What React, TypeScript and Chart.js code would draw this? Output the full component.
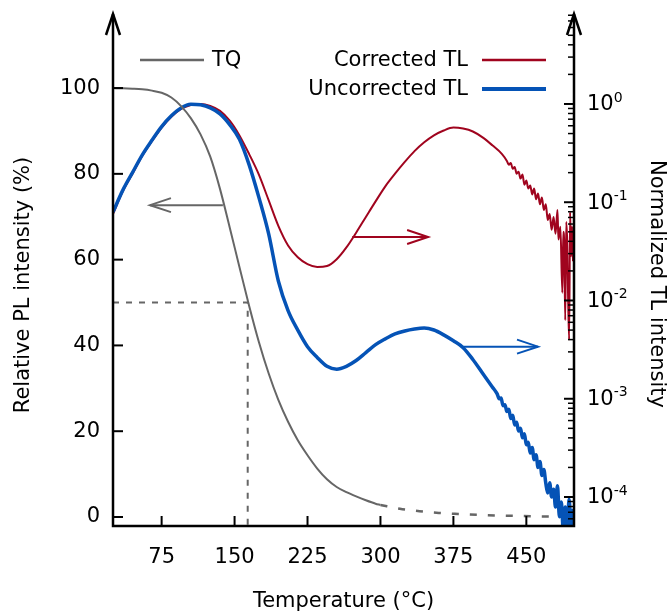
import React, { useEffect, useRef } from 'react';
import { Chart, registerables } from 'chart.js';

Chart.register(...registerables);

// ---------- data ----------
const tqTemps = [25, 35, 45, 55, 65, 75, 85, 95, 105, 115, 125, 135, 145, 155, 165, 175, 185, 195, 205, 215, 225, 235, 245, 255, 265, 275, 285, 295, 300];
const tqValues = [100, 99.95, 99.85, 99.7, 99.4, 98.9, 97.8, 95.8, 93.0, 89.2, 84.0, 76.5, 67.5, 58.3, 49.2, 40.8, 33.5, 27.3, 22.2, 17.9, 14.4, 11.3, 8.8, 7.0, 5.8, 4.8, 3.9, 3.1, 2.8];

const tqExtTemps = [300, 320, 340, 360, 380, 400, 420, 440, 460, 480, 499];
const tqExtValues = [2.8, 1.9, 1.35, 0.95, 0.7, 0.5, 0.35, 0.25, 0.15, 0.1, 0.05];

const halfTemps = [25, 163.5, 163.5];
const halfValues = [50, 50, -2.1];

const uncorrectedTemps = [25, 35, 45, 55, 65, 75, 85, 95, 105, 115, 125, 135, 145, 155, 165, 175, 185, 195, 205, 215, 225, 235, 245, 255, 265, 275, 285, 295, 305, 315, 325, 335, 345, 355, 365, 375, 385, 395, 405, 415, 420, 422, 424, 426, 428, 430, 432, 434, 436, 438, 440, 442, 444, 446, 448, 450, 452, 454, 456, 458, 460, 462, 464, 466, 468, 470, 472, 474, 476, 478, 480, 482, 484, 486, 488, 490, 492, 494, 496, 498];
const uncorrectedTL = [0.0794, 0.132, 0.2, 0.302, 0.427, 0.589, 0.759, 0.912, 0.995, 0.98, 0.912, 0.794, 0.617, 0.437, 0.24, 0.112, 0.0479, 0.0158, 0.0079, 0.005, 0.00339, 0.00263, 0.00214, 0.002, 0.00214, 0.00245, 0.00295, 0.00355, 0.00407, 0.00457, 0.0049, 0.00513, 0.00525, 0.00501, 0.00447, 0.00389, 0.00331, 0.00251, 0.00182, 0.00132, 0.00112, 0.001, 0.00102, 0.00085, 0.00087, 0.00074, 0.00078, 0.00063, 0.00068, 0.00054, 0.000575, 0.00047, 0.0005, 0.0004, 0.00044, 0.00034, 0.00036, 0.00028, 0.00032, 0.00024, 0.00027, 0.0002, 0.00023, 0.000166, 0.00019, 0.000138, 0.00011, 0.00014, 0.0001, 0.00012, 0.000079, 0.00013, 0.000063, 0.000089, 0.000045, 0.000079, 0.00005, 0.000095, 0.000045, 0.000076];

const correctedTemps = [25, 35, 45, 55, 65, 75, 85, 95, 105, 115, 125, 135, 145, 155, 165, 175, 185, 195, 205, 215, 225, 235, 245, 255, 265, 275, 285, 295, 305, 315, 325, 335, 345, 355, 365, 375, 385, 395, 405, 415, 425, 430, 432, 434, 436, 438, 440, 442, 444, 446, 448, 450, 452, 454, 456, 458, 460, 462, 464, 466, 468, 470, 472, 474, 476, 478, 480, 482, 483, 485, 487, 488, 489, 490, 491, 492, 493, 494, 495, 496, 497, 498];
const correctedTL = [0.0759, 0.129, 0.195, 0.295, 0.417, 0.575, 0.741, 0.891, 0.977, 1.0, 0.955, 0.851, 0.676, 0.479, 0.309, 0.191, 0.105, 0.0575, 0.0363, 0.0275, 0.0234, 0.0219, 0.0224, 0.0263, 0.0347, 0.049, 0.0708, 0.102, 0.145, 0.195, 0.257, 0.331, 0.407, 0.479, 0.537, 0.575, 0.562, 0.525, 0.457, 0.38, 0.309, 0.263, 0.24, 0.251, 0.219, 0.229, 0.195, 0.204, 0.174, 0.191, 0.151, 0.166, 0.138, 0.148, 0.12, 0.138, 0.107, 0.123, 0.0955, 0.112, 0.0832, 0.0955, 0.0661, 0.0759, 0.0525, 0.0708, 0.0479, 0.0832, 0.0417, 0.0562, 0.012, 0.0501, 0.0355, 0.0063, 0.0631, 0.0398, 0.01, 0.004, 0.0794, 0.0282, 0.0562, 0.0251];

const xTickValues = [75, 150, 225, 300, 375, 450];
const leftTickValues = [0, 20, 40, 60, 80, 100];
const rightDecadeExponents = [0, -1, -2, -3, -4];

// annotation arrows (data coordinates)
const tqArrow = { from: 138, to: 63, value: 72.7 };
const correctedArrow = { from: 271, to: 349, value: 0.0443 };
const uncorrectedArrow = { from: 385, to: 462, value: 0.00339 };

const legendLabels = ['TQ', 'Corrected TL', 'Uncorrected TL'];
const axisTitles = { x: 'Temperature (°C)', left: 'Relative PL intensity (%)', right: 'Normalized TL intensity' };

// ---------- styles ----------
const FONT = '"DejaVu Sans", "Verdana", sans-serif';
const GRAY = '#666666';
const RED = '#a0041e';
const BLUE = '#0553b6';
const INK = '#000000';

const zip = (xs: number[], ys: number[]) => xs.map((x, i) => ({ x, y: ys[i] }));

function line(ctx: CanvasRenderingContext2D, x0: number, y0: number, x1: number, y1: number) {
  ctx.beginPath();
  ctx.moveTo(x0, y0);
  ctx.lineTo(x1, y1);
  ctx.stroke();
}

function arrow(ctx: CanvasRenderingContext2D, x0: number, x1: number, y: number, color: string) {
  ctx.strokeStyle = color;
  ctx.lineWidth = 2;
  line(ctx, x0, y, x1, y);
  const dir = x1 > x0 ? 1 : -1;
  ctx.beginPath();
  ctx.moveTo(x1 - dir * 21, y - 7);
  ctx.lineTo(x1, y);
  ctx.lineTo(x1 - dir * 21, y + 7);
  ctx.stroke();
}

const decorPlugin = {
  id: 'decor',
  afterDraw(chart: any) {
    const { ctx, chartArea: ca, scales } = chart;
    const xs = scales.x;
    const yl = scales.y;
    const yr = scales.y2;
    ctx.save();

    // annotation arrows
    arrow(ctx, xs.getPixelForValue(tqArrow.from), xs.getPixelForValue(tqArrow.to), yl.getPixelForValue(tqArrow.value), GRAY);
    arrow(ctx, xs.getPixelForValue(correctedArrow.from), xs.getPixelForValue(correctedArrow.to), yr.getPixelForValue(correctedArrow.value), RED);
    arrow(ctx, xs.getPixelForValue(uncorrectedArrow.from), xs.getPixelForValue(uncorrectedArrow.to), yr.getPixelForValue(uncorrectedArrow.value), BLUE);

    // axes
    ctx.strokeStyle = '#000';
    ctx.lineWidth = 2.5;
    ctx.lineJoin = 'miter';
    ctx.beginPath();
    ctx.moveTo(ca.left, ca.top + 1);
    ctx.lineTo(ca.left, ca.bottom);
    ctx.lineTo(ca.right, ca.bottom);
    ctx.lineTo(ca.right, ca.top + 1);
    ctx.stroke();
    for (const ax of [ca.left, ca.right]) {
      ctx.beginPath();
      ctx.moveTo(ax - 7, ca.top + 22);
      ctx.lineTo(ax, ca.top + 1);
      ctx.lineTo(ax + 7, ca.top + 22);
      ctx.stroke();
    }

    // ticks (inward)
    ctx.lineWidth = 2;
    for (const v of leftTickValues) {
      const y = yl.getPixelForValue(v);
      line(ctx, ca.left, y, ca.left + 10, y);
    }
    for (const v of xTickValues) {
      const x = xs.getPixelForValue(v);
      line(ctx, x, ca.bottom, x, ca.bottom - 10);
    }
    for (const e of rightDecadeExponents) {
      const y = yr.getPixelForValue(Math.pow(10, e));
      line(ctx, ca.right - 10, y, ca.right, y);
    }
    ctx.lineWidth = 1.5;
    for (let e = -5; e <= 0; e++) {
      for (let m = 2; m <= 9; m++) {
        const v = m * Math.pow(10, e);
        if (v < yr.min || v > yr.max) continue;
        const y = yr.getPixelForValue(v);
        line(ctx, ca.right - 6, y, ca.right, y);
      }
    }

    // right tick labels 10^n
    ctx.fillStyle = INK;
    ctx.textAlign = 'left';
    ctx.textBaseline = 'middle';
    for (const e of rightDecadeExponents) {
      const y = yr.getPixelForValue(Math.pow(10, e));
      ctx.font = `21px ${FONT}`;
      const x0 = ca.right + 13;
      ctx.fillText('10', x0, y + 1);
      const w = ctx.measureText('10').width;
      ctx.font = `14px ${FONT}`;
      ctx.fillText(String(e), x0 + w, y - 6);
    }

    // titles
    ctx.font = `21px ${FONT}`;
    ctx.textAlign = 'center';
    ctx.textBaseline = 'alphabetic';
    ctx.fillText(axisTitles.x, (ca.left + ca.right) / 2, 607);
    ctx.textBaseline = 'middle';
    ctx.save();
    ctx.translate(24, 285);
    ctx.rotate(-Math.PI / 2);
    ctx.fillText(axisTitles.left, 0, 0);
    ctx.restore();
    ctx.save();
    ctx.translate(656, 284);
    ctx.rotate(Math.PI / 2);
    ctx.fillText(axisTitles.right, 0, 0);
    ctx.restore();

    // legend
    ctx.lineWidth = 2.5;
    ctx.strokeStyle = GRAY;
    line(ctx, 140, 60, 204, 60);
    ctx.textAlign = 'left';
    ctx.fillText(legendLabels[0], 212, 61);
    ctx.textAlign = 'right';
    ctx.fillText(legendLabels[1], 468, 61);
    ctx.fillText(legendLabels[2], 468, 90);
    ctx.strokeStyle = RED;
    ctx.lineWidth = 2.5;
    line(ctx, 482, 60, 546, 60);
    ctx.strokeStyle = BLUE;
    ctx.lineWidth = 4;
    line(ctx, 482, 89, 546, 89);

    ctx.restore();
  },
};

export default function App() {
  const canvasRef = useRef<HTMLCanvasElement | null>(null);

  useEffect(() => {
    const canvas = canvasRef.current;
    if (!canvas) return;
    const tickFont = { family: FONT, size: 21 };
    const fixVertical = (width: number) => (s: any) => {
      s.width = width;
      s.paddingTop = 13;
      s.paddingBottom = 0;
    };
    const chart = new Chart(canvas, {
      type: 'line',
      data: {
        datasets: [
          {
            label: 'TQ',
            data: zip(tqTemps, tqValues),
            yAxisID: 'y',
            borderColor: GRAY,
            borderWidth: 2,
            pointRadius: 0,
            cubicInterpolationMode: 'monotone',
          },
          {
            label: 'Uncorrected TL',
            data: zip(uncorrectedTemps, uncorrectedTL),
            yAxisID: 'y2',
            borderColor: BLUE,
            borderWidth: 3.5,
            pointRadius: 0,
            cubicInterpolationMode: 'monotone',
          },
          {
            label: 'Corrected TL',
            data: zip(correctedTemps, correctedTL),
            yAxisID: 'y2',
            borderColor: RED,
            borderWidth: 2,
            pointRadius: 0,
            cubicInterpolationMode: 'monotone',
          },
          {
            label: 'TQ extrapolated',
            data: zip(tqExtTemps, tqExtValues),
            yAxisID: 'y',
            borderColor: GRAY,
            borderWidth: 2.5,
            borderDash: [7, 11],
            pointRadius: 0,
            cubicInterpolationMode: 'monotone',
          },
          {
            label: '50%',
            data: zip(halfTemps, halfValues),
            yAxisID: 'y',
            borderColor: GRAY,
            borderWidth: 2,
            borderDash: [6, 7],
            pointRadius: 0,
            tension: 0,
          },
        ],
      } as any,
      options: {
        responsive: false,
        animation: false,
        events: [],
        layout: { padding: 0 },
        plugins: { legend: { display: false }, tooltip: { enabled: false } },
        scales: {
          x: {
            type: 'linear',
            min: 25,
            max: 499,
            grid: { display: false },
            border: { display: false },
            afterBuildTicks: (s: any) => { s.ticks = xTickValues.map((v) => ({ value: v })); },
            ticks: { font: tickFont, color: INK, padding: 11, maxRotation: 0, autoSkip: false },
            afterFit: (s: any) => { s.height = 87; s.paddingLeft = 0; s.paddingRight = 0; },
          },
          y: {
            type: 'linear',
            position: 'left',
            min: -2.1,
            max: 117.5,
            grid: { display: false },
            border: { display: false },
            afterBuildTicks: (s: any) => { s.ticks = leftTickValues.map((v) => ({ value: v })); },
            ticks: { font: tickFont, color: INK, padding: 5 },
            afterFit: fixVertical(113),
          },
          y2: {
            type: 'logarithmic',
            position: 'right',
            min: 5.07e-5,
            max: 8.43,
            grid: { display: false },
            border: { display: false },
            ticks: { display: false },
            afterFit: fixVertical(94),
          },
        },
      } as any,
      plugins: [decorPlugin],
    });
    return () => chart.destroy();
  }, []);

  return (
    <div style={{ position: 'absolute', left: 0, top: 0, width: 668, height: 613, background: '#fff' }}>
      <canvas ref={canvasRef} width={668} height={613} style={{ display: 'block' }} />
    </div>
  );
}
